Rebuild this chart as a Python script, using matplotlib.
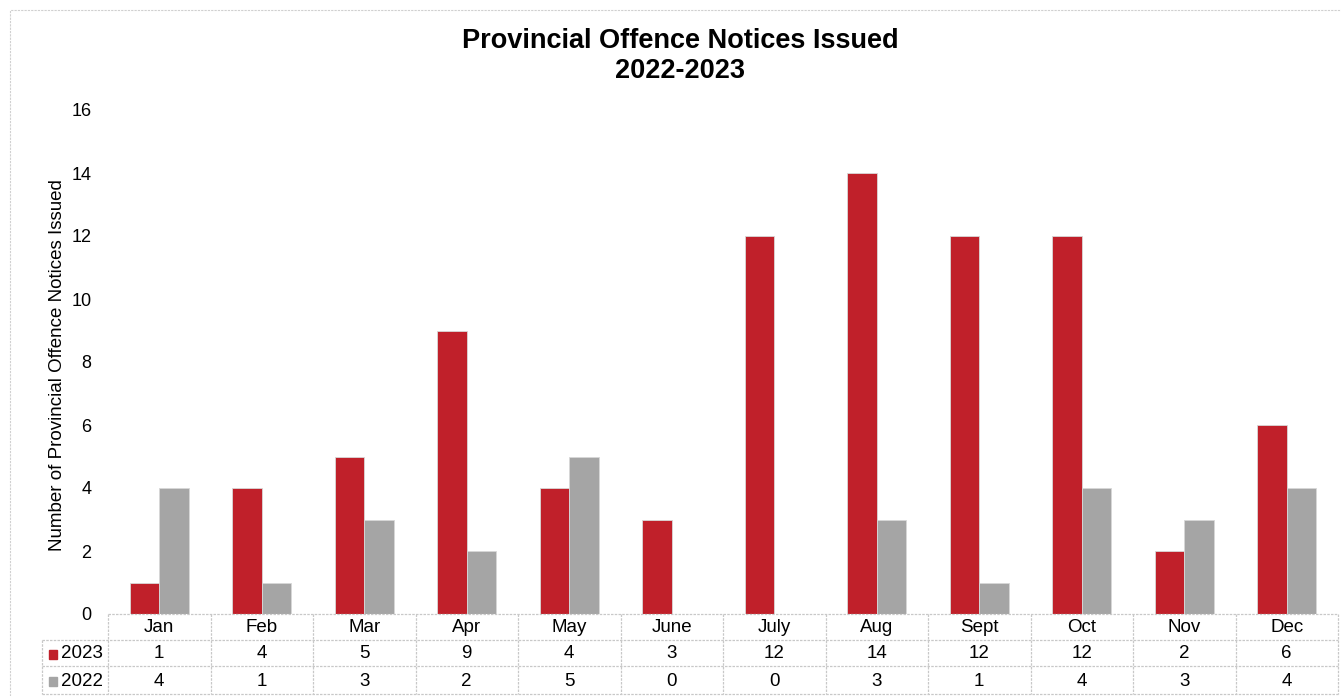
import matplotlib.pyplot as plt
import matplotlib.transforms as mtransforms
import numpy as np

plt.rcParams['font.family'] = ['Liberation Sans', 'DejaVu Sans']

months = ['Jan', 'Feb', 'Mar', 'Apr', 'May', 'June', 'July', 'Aug', 'Sept', 'Oct', 'Nov', 'Dec']
series_names = ['2023', '2022']
vals_2023 = [1, 4, 5, 9, 4, 3, 12, 14, 12, 12, 2, 6]
vals_2022 = [4, 1, 3, 2, 5, 0, 0, 3, 1, 4, 3, 4]
colors = ['#C0202A', '#A5A5A5']

W, H = 1341, 696
fig = plt.figure(figsize=(W / 100, H / 100), dpi=100)

# plot area in pixels
left, right, top, bottom = 108, 1338, 110, 614
ax = fig.add_axes([left / W, 1 - bottom / H, (right - left) / W, (bottom - top) / H])

x = np.arange(len(months))
bw = 0.29
ax.bar(x - bw / 2, vals_2023, bw, color=colors[0], edgecolor='#d8d8d8', linewidth=0.6)
ax.bar(x + bw / 2, vals_2022, bw, color=colors[1], edgecolor='#d8d8d8', linewidth=0.6)

ax.set_xlim(-0.5, len(months) - 0.5)
ax.set_ylim(0, 16)
ax.set_yticks(range(0, 17, 2))
ax.tick_params(axis='y', length=0, labelsize=13, pad=12)
ax.set_xticks([])
for s in ax.spines.values():
    s.set_visible(False)

fig.text(57 / W, 1 - 365 / H, 'Number of Provincial Offence Notices Issued',
         rotation=90, ha='center', va='center', fontsize=13.5)
fig.text(680 / W, 1 - 56 / H, 'Provincial Offence Notices Issued\n2022-2023',
         ha='center', va='center', fontsize=19.5, fontweight='bold', linespacing=1.15)

# data table below the axis
trans = mtransforms.blended_transform_factory(ax.transData, fig.transFigure)
line_kw = dict(color='#c8c8c8', linewidth=0.9, linestyle=(0, (2, 1)))
row_y = [614, 640, 666, 694]
def fy(p):
    return 1 - p / H

# horizontal lines
fig.add_artist(plt.Line2D([left / W, right / W], [fy(row_y[0])] * 2, **line_kw))
for ry in row_y[1:]:
    fig.add_artist(plt.Line2D([42 / W, right / W], [fy(ry)] * 2, **line_kw))
# vertical lines
for i in range(len(months) + 1):
    fig.add_artist(plt.Line2D([i - 0.5] * 2, [fy(row_y[0]), fy(row_y[3])],
                              transform=trans, **line_kw))
fig.add_artist(plt.Line2D([42 / W] * 2, [fy(row_y[1]), fy(row_y[3])], **line_kw))

fs = 13.5
for i, m in enumerate(months):
    fig.text(i, fy(628), m, transform=trans, ha='center', va='center', fontsize=fs)
    fig.text(i, fy(654), str(vals_2023[i]), transform=trans, ha='center', va='center', fontsize=fs)
    fig.text(i, fy(681), str(vals_2022[i]), transform=trans, ha='center', va='center', fontsize=fs)

for name, c, yy in zip(series_names, colors, [654, 681]):
    fig.patches.append(plt.Rectangle((49 / W, fy(yy + 5)), 8 / W, 9 / H,
                                     transform=fig.transFigure, color=c))
    fig.text(61 / W, fy(yy), name, ha='left', va='center', fontsize=fs)

# outer chart border
fig.add_artist(plt.Line2D([10 / W, 10 / W, W / W], [fy(H), fy(10), fy(10)],
                          color='#d0d0d0', linewidth=0.8, linestyle=(0, (2, 1))))

fig.savefig('out.png', dpi=100)
